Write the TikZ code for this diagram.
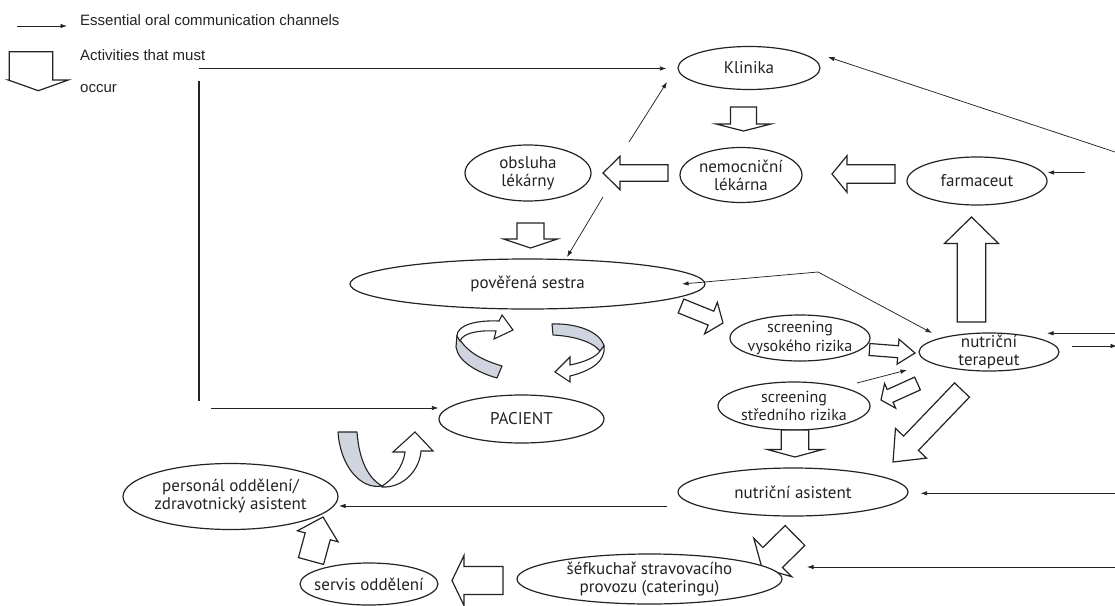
\documentclass[tikz,border=0pt]{standalone}
\usepackage{fontspec}
\setmainfont{PT Sans}
\newfontfamily\legendfont{Liberation Sans}
\usetikzlibrary{calc,arrows.meta,shapes.geometric}
\definecolor{ink}{RGB}{35,35,35}
\definecolor{ribbongray}{RGB}{208,212,223}
\tikzset{
  ln/.style={draw=ink, line width=0.75pt},
  conn/.style={ln, -{Latex[length=6.5pt,width=4.5pt]}},
  bothconn/.style={ln, {Latex[length=6.5pt,width=4.5pt]}-{Latex[length=6.5pt,width=4.5pt]}},
  ell/.style 2 args={ellipse, draw=ink, line width=1.2pt, minimum width=#1, minimum height=#2, inner sep=0pt},
  txt/.style={align=center, font=\fontsize{17}{18}\selectfont, text=ink, inner sep=0pt},
  smalltxt/.style={align=center, font=\fontsize{16}{18.5}\selectfont, text=ink, inner sep=0pt},
  legtxt/.style={anchor=base west, font=\legendfont\fontsize{15}{17}\selectfont, text=ink, inner sep=0pt},
  blockarrow/.style={draw=ink, line width=1.2pt, fill=white, line join=miter},
  ribbon/.style={draw=ink, line width=1.1pt, fill=ribbongray, line join=round},
  ribbonw/.style={draw=ink, line width=1.1pt, fill=white, line join=miter},
}
\newcommand{\blockarr}[5]{%
  \coordinate (bA) at (#1);
  \coordinate (bB) at (#2);
  \coordinate (bH) at ($(bB)!#5!(bA)$);
  \draw[blockarrow] ($(bA)!#3!90:(bB)$) -- ($(bH)!#3!90:(bB)$) -- ($(bH)!#4!90:(bB)$) -- (bB)
     -- ($(bH)!#4!-90:(bB)$) -- ($(bH)!#3!-90:(bB)$) -- ($(bA)!#3!-90:(bB)$) -- cycle;}
\begin{document}
\begin{tikzpicture}[x=1pt,y=-1pt]
\useasboundingbox (0,0) rectangle (1115,605);

% ---------- legend ----------
\coordinate (lg1) at (17,26);
\coordinate (lg2) at (67,26);
\draw[conn] (lg1) -- (lg2);
\node[legtxt] (leg1) at (80,25.5) {Essential oral communication channels};
\draw[blockarrow] (9.3,51.7) -- (52.7,51.7) -- (52.7,80) -- (68.3,80) -- (38.3,90.7) -- (8.3,80) -- (9.3,80) -- cycle;
\node[legtxt] (leg2) at (80,60.5) {Activities that must};
\node[legtxt] (leg3) at (80,92) {occur};

% arrow from nutriční asistent to šéfkuchař (tip hidden under the ellipse)
\blockarr{795,535.5}{762,568}{14pt}{27pt}{15pt}

% ---------- nodes ----------
\node[ell={142pt}{43pt}] (klin) at (749,68) {};
\node[txt] (klinT) at (klin.center) {Klinika};
\node[ell={122pt}{55pt}] (nem) at (741,175) {};
\node[txt] (nemT) at (nem.center) {nemocniční\\lékárna};
\node[ell={126pt}{56pt}] (obs) at (528,173) {};
\node[txt] (obsT) at (obs.center) {obsluha\\lékárny};
\node[ell={140pt}{48pt}] (farm) at (977,181) {};
\node[txt] (farmT) at (farm.center) {farmaceut};
\node[ell={355pt}{50pt}] (ses) at (527.5,284) {};
\node[txt] (sesT) at (ses.center) {pověřená sestra};
\node[ell={140pt}{46pt}] (vys) at (800,338) {};
\node[smalltxt] (vysT) at (vys.center) {screening\\vysokého rizika};
\node[ell={140pt}{38pt}] (ter) at (989,352) {};
\node[txt] (terT) at (ter.center) {nutriční\\terapeut};
\node[ell={152pt}{48pt}] (stred) at (794,406) {};
\node[smalltxt] (stredT) at (stred.center) {screening\\středního rizika};
\node[ell={165pt}{48pt}] (pac) at (521.5,419) {};
\node[txt] (pacT) at (pac.center) {PACIENT};
\node[ell={230pt}{48pt}] (asist) at (793,492) {};
\node[txt] (asistT) at (asist.center) {nutriční asistent};
\node[ell={215pt}{66pt}] (pers) at (230.5,496.5) {};
\node[txt] (persT) at (pers.center) {personál oddělení/\\zdravotnický asistent};
\node[ell={265pt}{50pt}, fill=white] (sef) at (649.5,579) {};
\node[txt] (sefT) at (sef.center) {šéfkuchař stravovacího\\provozu (cateringu)};
\node[ell={138pt}{42pt}] (serv) at (369,584) {};
\node[txt] (servT) at (serv.center) {servis oddělení};

% ---------- block arrows ----------
\blockarr{668,173}{603,173}{8.3pt}{16.7pt}{17pt}
\blockarr{895,174}{832,174}{9.2pt}{18.3pt}{15pt}
\blockarr{743.5,107}{743.5,131}{13pt}{27.5pt}{7pt}
\blockarr{530.5,223}{530.5,248}{13.5pt}{27pt}{9pt}
\blockarr{795,430}{795,457}{13.7pt}{27.7pt}{7.5pt}
\blockarr{971.5,322}{971.5,217}{14.2pt}{27pt}{26.5pt}
\blockarr{869.5,349.5}{915,353}{6pt}{12.5pt}{17pt}
\blockarr{681,306}{723,323}{7.5pt}{17pt}{13pt}
\blockarr{917.5,383.5}{881,400}{7pt}{13.5pt}{10pt}
\blockarr{962,390}{893,462}{10.3pt}{21.5pt}{26pt}
\blockarr{503,580.5}{452,580.5}{14pt}{25pt}{12pt}
\blockarr{311,561}{323,517}{13pt}{21pt}{20pt}

% ---------- ribbons ----------
% left circular arrow
\path[ribbon] (457,335) .. controls (466,352) and (482,360) .. (502,366) -- (497,378)
   .. controls (476,372) and (458,361) .. (456,347) -- cycle;
\path[ribbonw] (457,336) .. controls (457,325) and (476,320) .. (499,321) -- (502,315) -- (513,330)
   -- (494,339) -- (496,331) .. controls (478,330) and (463,333) .. (460,341) -- cycle;
% right circular arrow
\path[ribbon] (552,324) .. controls (575,323) and (600,331) .. (604,346) -- (600,351)
   .. controls (592,341) and (572,336) .. (553,335) -- cycle;
\path[ribbonw] (604,346) .. controls (606,362) and (590,371) .. (570,376) -- (570,382) -- (555,372)
   -- (570,357) -- (570,365) .. controls (585,362) and (596,357) .. (600,351) -- cycle;
% U arrow near patient
\path[ribbon] (338,432) -- (357,432) .. controls (359,460) and (368,478) .. (382,486)
   .. controls (360,490) and (340,465) .. (338,432) -- cycle;
\path[ribbonw] (382,487) .. controls (405,488) and (420,468) .. (421,451) -- (433,451) -- (415,432)
   -- (393,452) -- (405,452) .. controls (403,468) and (392,480) .. (382,486) -- cycle;

% ---------- thin connectors ----------
\coordinate (tl) at (199,68.5);
\draw[conn, shorten >=11pt] (tl) -- (tl -| klin.west);
\coordinate (vt) at (199,81);
\coordinate (vb) at (199,401);
\draw[ln, line width=1.3pt] (vt) -- (vb);
\coordinate (pl) at (211,408);
\draw[conn] (pl) -- (pl -| pac.west);
\coordinate (ok1) at (629,142);
\coordinate (ok2) at (667,82);
\draw[conn] (ok1) -- (ok2);
\coordinate (os1) at (603,197);
\coordinate (os2) at (567,257);
\draw[conn] (os1) -- (os2);
\coordinate (bend) at (818,272);
\coordinate (bs) at (682,284);
\coordinate (bt) at (932,333);
\draw[bothconn] (bs) -- (bend) -- (bt);
\coordinate (st1) at (857,383);
\coordinate (st2) at (907,370);
\draw[conn] (st1) -- (st2);
\coordinate (rk) at (1115,152);
\coordinate (rk2) at (828,57);
\draw[conn] (rk) -- (rk2);
\coordinate (rf) at (1085,172.5);
\draw[conn] (rf) -- (rf -| farm.east);
\coordinate (rt) at (1115,333.3);
\coordinate (rt2) at (1047,333.3);
\draw[conn] (rt) -- (rt2);
\coordinate (to1) at (1072,346);
\coordinate (to2) at (1117,346);
\draw[conn] (to1) -- (to2);
\coordinate (ra) at (1115,493.3);
\draw[conn, shorten >=12pt] (ra) -- (ra -| asist.east);
\coordinate (rs) at (1115,567);
\coordinate (rs2) at (807,567);
\draw[conn] (rs) -- (rs2);
\coordinate (ap1) at (667,506);
\coordinate (ap2) at (339,506);
\draw[conn] (ap1) -- (ap2);
\end{tikzpicture}
\end{document}
